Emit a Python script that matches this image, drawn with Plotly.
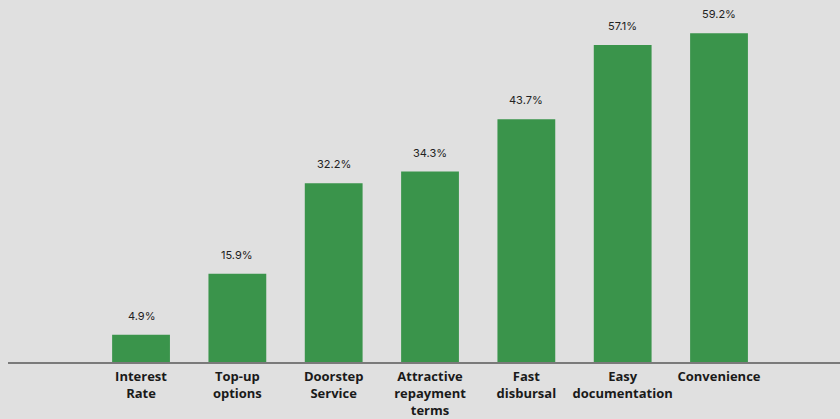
import plotly.graph_objects as go

categories = ["Interest<br>Rate", "Top-up<br>options", "Doorstep<br>Service",
              "Attractive<br>repayment<br>terms", "Fast<br>disbursal",
              "Easy<br>documentation", "Convenience"]
values = [4.9, 15.9, 32.2, 34.3, 43.7, 57.1, 59.2]
value_labels = ["4.9%", "15.9%", "32.2%", "34.3%", "43.7%", "57.1%", "59.2%"]

BG = "#e0e0e0"
GREEN = "#3a944b"

fig = go.Figure()
fig.add_trace(go.Bar(
    x=categories, y=values, marker=dict(color=GREEN, line=dict(width=0)),
    width=0.6, hoverinfo="skip",
))
for c, v, t in zip(categories, values, value_labels):
    fig.add_annotation(x=c, y=v, text=t, showarrow=False, yanchor="bottom",
                       yshift=10, font=dict(family="Inter", size=11, color="#222222"))

fig.update_layout(
    width=840, height=419,
    margin=dict(l=8, r=0, t=0, b=57),
    paper_bgcolor=BG, plot_bgcolor=BG,
    showlegend=False,
    xaxis=dict(type="category", range=[-1.381, 7.256], showline=True,
               linecolor="#7a7a7a", linewidth=1.5, ticks="", showgrid=False,
               tickfont=dict(family="Open Sans", size=13, color="#1a1a1a", weight="bold"),
               ticklabelstandoff=2),
    yaxis=dict(range=[0, 65.2], visible=False, showgrid=False, zeroline=False),
)
fig.write_html("out.html")
